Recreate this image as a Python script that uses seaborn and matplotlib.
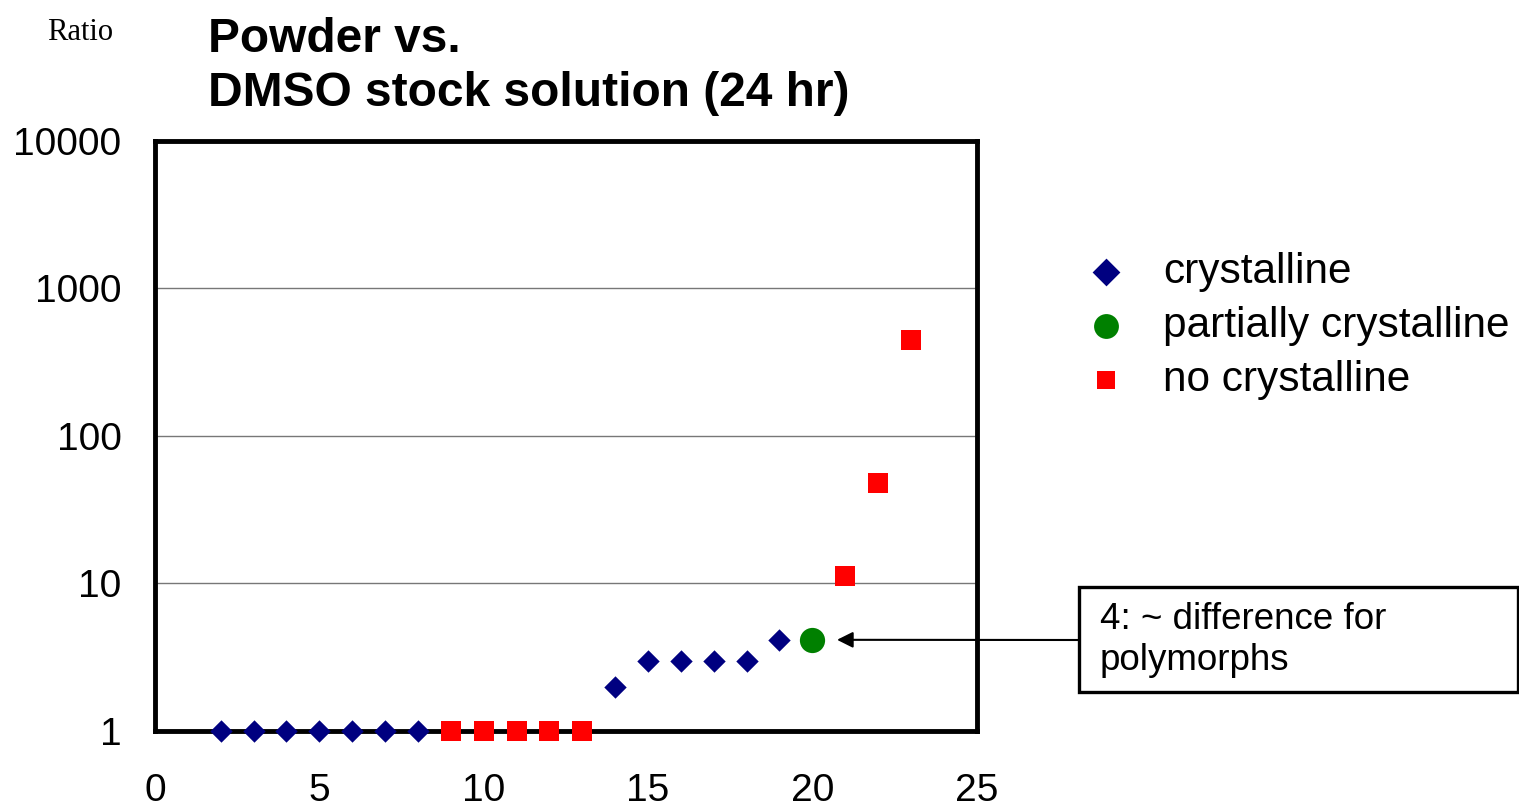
import numpy as np
import pandas as pd
import seaborn as sns
import matplotlib.pyplot as plt
from matplotlib.patches import Rectangle
from matplotlib.ticker import FixedLocator, FixedFormatter, NullLocator

# datos
cryst_x = [2, 3, 4, 5, 6, 7, 8, 14, 15, 16, 17, 18, 19]
cryst_y = [1, 1, 1, 1, 1, 1, 1, 2.0, 3.0, 3.0, 3.0, 3.0, 4.15]
partial_x = [20]
partial_y = [4.15]
none_x = [9, 10, 11, 12, 13, 21, 22, 23]
none_y = [1, 1, 1, 1, 1, 11.3, 48, 450]

y_ticks = [1, 10, 100, 1000, 10000]
y_labels = ['1', '10', '100', '1000', '10000']
x_ticks = [0, 5, 10, 15, 20, 25]

sns.set_style('white')
plt.rcParams['font.family'] = ['Liberation Sans', 'DejaVu Sans']
plt.rcParams['text.color'] = 'black'
plt.rcParams['xtick.color'] = 'black'
plt.rcParams['ytick.color'] = 'black'
plt.rcParams['axes.labelcolor'] = 'black'

fig = plt.figure(figsize=(15.19, 8.09), dpi=100)
ax = fig.add_axes([0.102, 0.0964, 0.541, 0.7296])

df_c = pd.DataFrame({'x': cryst_x, 'y': cryst_y})
df_p = pd.DataFrame({'x': partial_x, 'y': partial_y})
df_n = pd.DataFrame({'x': none_x, 'y': none_y})

sns.scatterplot(data=df_c, x='x', y='y', marker='D', color='#000080', s=130,
                linewidth=0, label='crystalline', ax=ax, zorder=4, clip_on=False)
sns.scatterplot(data=df_p, x='x', y='y', marker='o', color='#008000', s=330,
                linewidth=0, label='partially crystalline', ax=ax, zorder=4, clip_on=False)
sns.scatterplot(data=df_n, x='x', y='y', marker='s', color='#ff0000', s=200,
                linewidth=0, label='no crystalline', ax=ax, zorder=4, clip_on=False)

ax.set_yscale('log')
ax.set_ylim(1, 10000)
ax.set_xlim(0, 25)
ax.yaxis.set_major_locator(FixedLocator(y_ticks))
ax.yaxis.set_major_formatter(FixedFormatter(y_labels))
ax.yaxis.set_minor_locator(NullLocator())
ax.set_xticks(x_ticks)
ax.set_xticklabels([str(v) for v in x_ticks])
ax.tick_params(axis='both', direction='in', length=8, width=0.8, labelsize=28,
               color='#333333', labelcolor='black')
ax.tick_params(axis='x', pad=30)
ax.tick_params(axis='y', pad=24)
ax.set_xlabel('')
ax.set_ylabel('')
ax.grid(axis='y', color='#777777', linewidth=1)
ax.grid(axis='x', visible=False)
for sp in ax.spines.values():
    sp.set_visible(True)
    sp.set_color('black')
    sp.set_linewidth(3.5)
    sp.set_zorder(3)

# titulo y etiqueta del eje
fig.text(0.137, 0.979, 'Powder vs.\nDMSO stock solution (24 hr)', fontsize=34.5,
         fontweight='bold', ha='left', va='top', linespacing=1.27)
fig.text(0.031, 0.960, 'Ratio', fontsize=22, family='Liberation Serif', ha='left', va='center')

# leyenda
leg = ax.legend(loc='upper left', bbox_to_anchor=(0.714, 0.688), bbox_transform=fig.transFigure,
                frameon=False, fontsize=30.5, handlelength=1.0, handletextpad=0.85,
                labelspacing=0.33, borderaxespad=0, borderpad=0)
for h, sz in zip(leg.legend_handles, [200, 320, 180]):
    h.set_sizes([sz])

# anotacion
fig.patches.append(Rectangle((0.7103, 0.1446), 0.2890, 0.1298, transform=fig.transFigure,
                             fill=False, ec='black', lw=2.4, clip_on=False))
fig.text(0.724, 0.2089, '4: ~ difference for\npolymorphs', fontsize=26.5, ha='left',
         va='center', linespacing=1.24)
ax.annotate('', xy=(20.75, 4.15), xycoords='data',
            xytext=(0.7103, 0.2089), textcoords='figure fraction', annotation_clip=False,
            arrowprops=dict(arrowstyle='-|>', color='black', lw=1.5, mutation_scale=24,
                            shrinkA=0, shrinkB=0))

fig.savefig('out.png', dpi=100)
